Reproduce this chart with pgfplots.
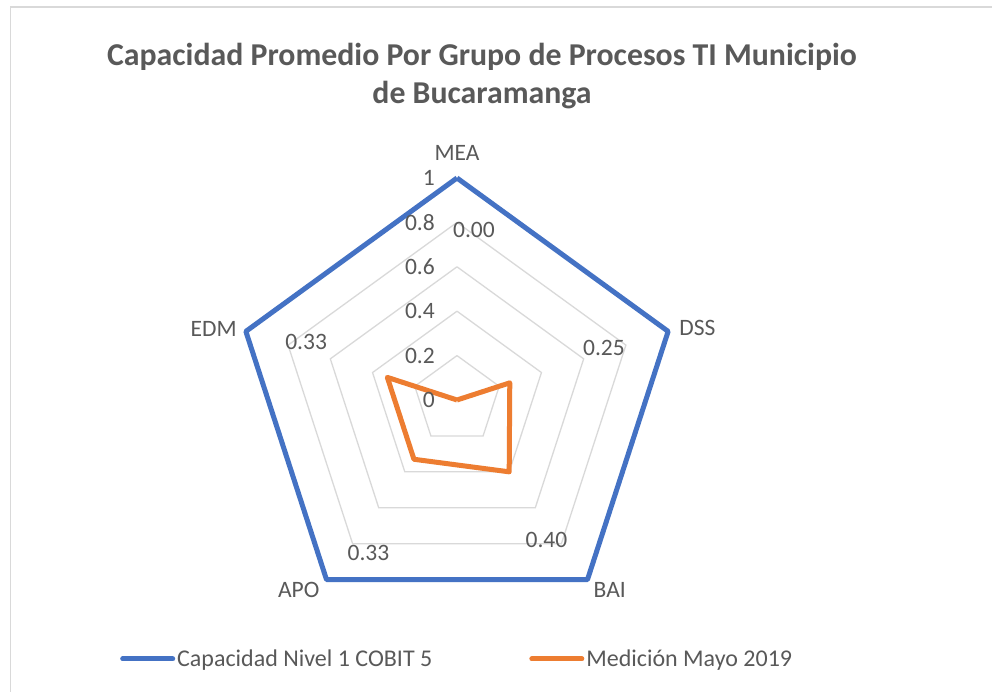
\documentclass[border=0pt]{standalone}
\usepackage{fontspec}
\setmainfont{Carlito}
\usepackage{pgfplots}
\pgfplotsset{compat=1.18}
\usepgfplotslibrary{polar}
\definecolor{cblue}{HTML}{4472C4}
\definecolor{corange}{HTML}{ED7D31}
\definecolor{cgrid}{HTML}{D9D9D9}
\definecolor{ctext}{HTML}{595959}
\begin{document}
\begin{tikzpicture}
\useasboundingbox (0pt,0pt) rectangle (992pt,692pt);
\fill[white] (0pt,0pt) rectangle (992pt,692pt);
\draw[cgrid, line width=1.5pt] (10.5pt,0pt) -- (10.5pt,685pt) -- (992pt,685pt);
\node[font=\fontsize{31.8}{38}\selectfont\bfseries, text=ctext, align=center] at (482pt,616pt)
  {Capacidad Promedio Por Grupo de Procesos TI Municipio\\de Bucaramanga};
\begin{polaraxis}[
  at={(457pt,292pt)}, anchor=origin,
  scale only axis, width=444pt, height=444pt,
  ymin=0, ymax=1, hide axis, clip=false,
  legend columns=2,
  legend style={at={(-0.259,-0.0833)}, anchor=west, draw=none, fill=none,
    font=\fontsize{24}{28}\selectfont, text=ctext, inner sep=0pt,
    /tikz/every even column/.append style={column sep=95pt},
    nodes={inner sep=2pt}},
  legend image code/.code={\draw[#1, line cap=round] (0pt,0pt) -- (50pt,0pt);},
]
% grid pentagons
\addplot[cgrid, line width=1.3pt, forget plot] coordinates {(90,0.2) (18,0.2) (306,0.2) (234,0.2) (162,0.2) (90,0.2)};
\addplot[cgrid, line width=1.3pt, forget plot] coordinates {(90,0.4) (18,0.4) (306,0.4) (234,0.4) (162,0.4) (90,0.4)};
\addplot[cgrid, line width=1.3pt, forget plot] coordinates {(90,0.6) (18,0.6) (306,0.6) (234,0.6) (162,0.6) (90,0.6)};
\addplot[cgrid, line width=1.3pt, forget plot] coordinates {(90,0.8) (18,0.8) (306,0.8) (234,0.8) (162,0.8) (90,0.8)};
% series
\addplot[cblue, line width=5pt, line join=round, mark=none] coordinates {(90,1) (18,1) (306,1) (234,1) (162,1) (90,1)};
\addlegendentry{Capacidad Nivel 1 COBIT 5}
\addplot[corange, line width=5pt, line join=round, mark=none] coordinates {(90,0) (18,0.25) (306,0.40) (234,0.33) (162,0.33) (90,0)};
\addlegendentry{Medición Mayo 2019}
% data labels
\addplot[draw=none, mark=none, forget plot, nodes near coords, point meta=explicit symbolic,
  nodes near coords align={center},
  every node near coord/.append style={font=\fontsize{23.5}{28}\selectfont, text=ctext, inner sep=0pt, anchor=center}]
  coordinates {(84.3,0.77) [0.00] (19.65,0.703) [0.25] (302.5,0.75) [0.40] (240,0.798) [0.33] (158.8,0.729) [0.33]};
% radial labels
\begin{scope}[every node/.style={font=\fontsize{23.5}{28}\selectfont, text=ctext, inner sep=0pt}]
\node[anchor=east, xshift=-22pt] at (axis cs:90,0) {0};
\node[anchor=east, xshift=-22pt] at (axis cs:90,0.2) {0.2};
\node[anchor=east, xshift=-22pt] at (axis cs:90,0.4) {0.4};
\node[anchor=east, xshift=-22pt] at (axis cs:90,0.6) {0.6};
\node[anchor=east, xshift=-22pt] at (axis cs:90,0.8) {0.8};
\node[anchor=east, xshift=-22pt] at (axis cs:90,1) {1};
% category labels
\node[anchor=center, yshift=25pt] at (axis cs:90,1) {MEA};
\node[anchor=west, xshift=11pt, yshift=3pt] at (axis cs:18,1) {DSS};
\node[anchor=west, xshift=6pt, yshift=-10pt] at (axis cs:306,1) {BAI};
\node[anchor=east, xshift=-7pt, yshift=-10pt] at (axis cs:234,1) {APO};
\node[anchor=east, xshift=-9pt, yshift=2pt] at (axis cs:162,1) {EDM};
\end{scope}
\end{polaraxis}
\end{tikzpicture}
\end{document}
